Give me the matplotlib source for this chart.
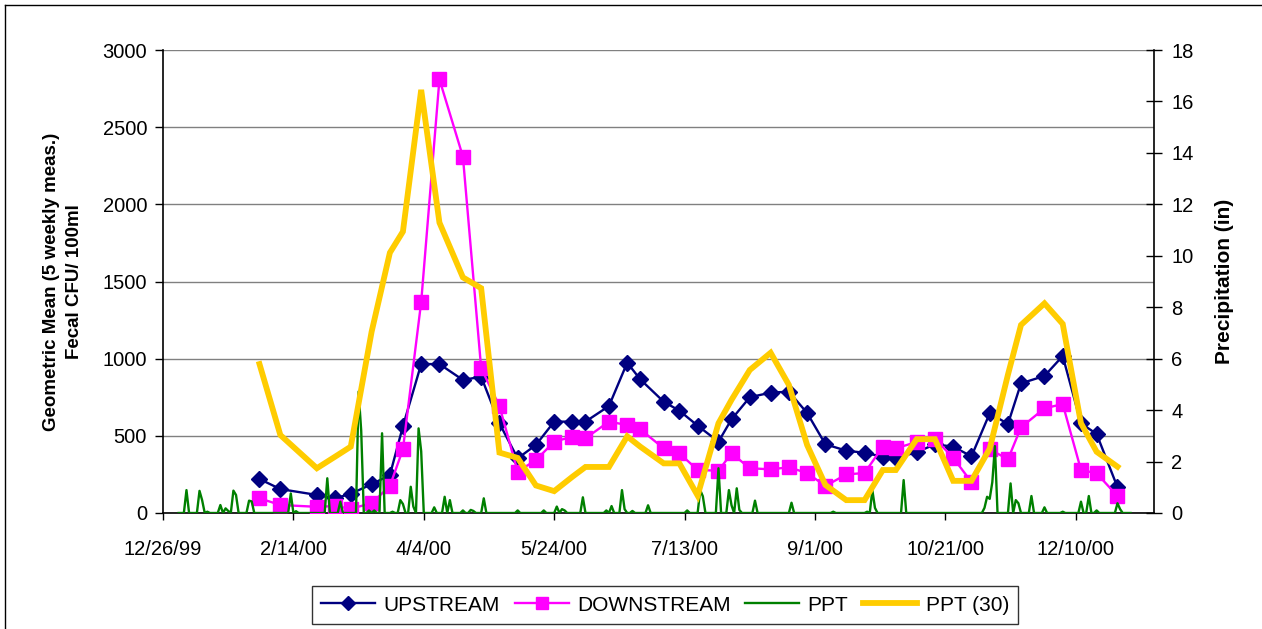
"""
Weekly geometric mean fecal coliform upstream/downstream vs. daily
and 30-day precipitation, 2000.
"""
import numpy as np
import pandas as pd
import matplotlib
matplotlib.use("Agg")
import matplotlib.pyplot as plt
from matplotlib.lines import Line2D

plt.rcParams["font.family"] = ["Liberation Sans", "DejaVu Sans"]

# x axis ticks every 50 days, axis runs to 1/9/01
TICK_LABELS = ["12/26/99", "2/14/00", "4/4/00", "5/24/00",
               "7/13/00", "9/1/00", "10/21/00", "12/10/00"]
X_END = "1/9/01"

SAMPLE_DATES = [
    "2000-02-01", "2000-02-09", "2000-02-23",
    "2000-03-01", "2000-03-07", "2000-03-15", "2000-03-22", "2000-03-27",
    "2000-04-03", "2000-04-10", "2000-04-19", "2000-04-26",
    "2000-05-03", "2000-05-10", "2000-05-17", "2000-05-24", "2000-05-31",
    "2000-06-05", "2000-06-14", "2000-06-21", "2000-06-26",
    "2000-07-05", "2000-07-11", "2000-07-18", "2000-07-26", "2000-07-31",
    "2000-08-07", "2000-08-15", "2000-08-22", "2000-08-29",
    "2000-09-05", "2000-09-13", "2000-09-20", "2000-09-27",
    "2000-10-02", "2000-10-10", "2000-10-17", "2000-10-24", "2000-10-31",
    "2000-11-07", "2000-11-14", "2000-11-19", "2000-11-28",
    "2000-12-05", "2000-12-12", "2000-12-18", "2000-12-26",
]

# geometric mean, CFU/100ml
UPSTREAM = [
    220, 155, 117, 95, 125, 186, 246, 562, 965, 965, 862, 883, 581,
    354, 441, 592, 592, 592, 693, 974, 866, 721, 663, 566, 462, 607,
    750, 780, 786, 648, 445, 404, 390, 365, 356, 394, 445, 430, 367,
    646, 577, 840, 888, 1017, 581, 512, 167,
]
DOWNSTREAM = [
    95, 52, 40, 45, 28, 63, 175, 413, 1367, 2810, 2309, 938, 693,
    268, 343, 462, 495, 484, 592, 570, 542, 419, 387, 279, 274, 387,
    290, 283, 296, 259, 175, 250, 259, 430, 419, 460, 480, 358, 200,
    413, 348, 555, 678, 706, 279, 257, 110,
]
# 30-day precipitation total (in)
PPT_30 = [
    5.79, 3.03, 1.74, 2.19, 2.58, 7.05, 10.12, 10.94, 16.45, 11.29,
    9.16, 8.74, 2.35, 2.14, 1.07, 0.85, 1.41, 1.79, 1.79, 2.98, 2.58,
    1.93, 1.93, 0.68, 3.49, 4.4, 5.56, 6.23, 4.98, 2.64, 1.09, 0.5,
    0.5, 1.67, 1.67, 2.87, 2.87, 1.25, 1.25, 2.5, 5.38, 7.31, 8.15,
    7.35, 3.49, 2.38, 1.80,
]

# daily precipitation (in), nonzero days only, day of year 2000
PPT_DOY = [
    4, 9, 10, 12, 17, 19, 20, 22, 23, 28, 29, 44, 46, 58, 63, 70, 71,
    74, 76, 79, 83, 86, 87, 90, 91, 93, 94, 99, 103, 105, 110, 113,
    114, 118, 131, 141, 146, 148, 149, 156, 165, 167, 171, 172, 175,
    181, 196, 201, 202, 208, 212, 213, 215, 216, 222, 236, 252, 265,
    267, 268, 279, 310, 311, 312, 313, 314, 320, 322, 323, 328, 333,
    340, 347, 350, 353, 361, 362,
]
PPT_IN = [
    0.89, 0.86, 0.50, 0.05, 0.31, 0.18, 0.08, 0.87, 0.70, 0.48, 0.45,
    0.76, 0.07, 1.35, 0.44, 4.72, 3.20, 0.10, 0.10, 3.10, 0.05, 0.50,
    0.35, 1.02, 0.25, 3.29, 2.40, 0.22, 0.63, 0.50, 0.10, 0.12, 0.08,
    0.57, 0.10, 0.10, 0.25, 0.15, 0.10, 0.61, 0.10, 0.27, 0.89, 0.15,
    0.08, 0.30, 0.10, 0.89, 0.65, 1.74, 0.89, 0.30, 0.96, 0.12, 0.48,
    0.40, 0.05, 0.05, 0.89, 0.20, 1.28, 0.20, 0.63, 0.55, 1.20, 2.60,
    1.15, 0.50, 0.38, 0.66, 0.22, 0.05, 0.44, 0.66, 0.10, 0.38, 0.15,
]

NAVY = "#000080"
MAGENTA = "#FF00FF"
GREEN = "#008000"
GOLD = "#FFCC00"


def main():
    dates = pd.to_datetime(SAMPLE_DATES)
    days = pd.date_range("2000-01-01", "2000-12-31", freq="D")
    ppt = np.zeros(len(days))
    ppt[np.array(PPT_DOY) - 1] = PPT_IN
    ticks = pd.to_datetime(TICK_LABELS, format="%m/%d/%y")
    x_end = pd.to_datetime(X_END, format="%m/%d/%y")

    fig = plt.figure(figsize=(12.62, 6.29), dpi=100)
    ax = fig.add_axes([163 / 1262, 1 - 513 / 629, 991 / 1262, 463 / 629])
    ax2 = ax.twinx()

    ax.plot(dates, UPSTREAM, color=NAVY, lw=1.7, marker="D", ms=8.5,
            mec=NAVY, mfc=NAVY, label="UPSTREAM", zorder=3)
    ax.plot(dates, DOWNSTREAM, color=MAGENTA, lw=1.7, marker="s", ms=10.5,
            mec=MAGENTA, mfc=MAGENTA, label="DOWNSTREAM", zorder=4)
    ax2.plot(days, ppt, color=GREEN, lw=1.7, label="PPT", zorder=3)
    ax2.plot(dates, PPT_30, color=GOLD, lw=4.2, label="PPT (30)",
             solid_joinstyle="miter", zorder=4)

    ax.set_xlim(ticks[0], x_end)
    ax.set_ylim(0, 3000)
    ax.set_yticks(np.arange(0, 3001, 500))
    ax.set_xticks(ticks)
    ax.set_xticklabels(TICK_LABELS)
    ax2.set_ylim(0, 18)
    ax2.set_yticks(np.arange(0, 19, 2))

    ax.yaxis.grid(True, color="#808080", lw=1)
    ax.set_axisbelow(True)

    for s in ["top", "right"]:
        ax.spines[s].set_visible(False)
    for s in ["top", "left", "bottom"]:
        ax2.spines[s].set_visible(False)
    for sp in [ax.spines["left"], ax.spines["bottom"], ax2.spines["right"]]:
        sp.set_color("black")
        sp.set_linewidth(1.2)

    ax.tick_params(axis="y", direction="out", length=6, width=1, pad=5.5,
                   labelsize=14.5)
    ax.tick_params(axis="x", direction="out", length=5, width=1, pad=14.5,
                   labelsize=14.5)
    ax2.tick_params(axis="y", direction="inout", length=11, width=1, pad=7,
                    labelsize=14.5)

    ax.set_ylabel("Geometric Mean (5 weekly meas.)\nFecal CFU/ 100ml",
                  fontsize=13.5, fontweight="bold", labelpad=14,
                  linespacing=1.45)
    ax2.set_ylabel("Precipitation (in)", fontsize=15, fontweight="bold",
                   labelpad=15)

    h1, l1 = ax.get_legend_handles_labels()
    h2, l2 = ax2.get_legend_handles_labels()
    leg = fig.legend(h1 + h2, l1 + l2, loc="lower center", ncol=4,
                     bbox_to_anchor=(665 / 1262, 5 / 629), fontsize=15,
                     frameon=True, fancybox=False, handlelength=2.6,
                     handletextpad=0.4, columnspacing=0.7, borderpad=0.45,
                     borderaxespad=0, markerscale=0.85)
    leg.get_frame().set_edgecolor("black")
    leg.get_frame().set_linewidth(1)

    # chart area border
    fig.add_artist(Line2D([5 / 1262, 5 / 1262], [0, 1 - 5 / 629],
                          transform=fig.transFigure, color="black", lw=1))
    fig.add_artist(Line2D([5 / 1262, 1], [1 - 5 / 629, 1 - 5 / 629],
                          transform=fig.transFigure, color="black", lw=1))

    fig.savefig("out.png", dpi=100)


if __name__ == "__main__":
    main()
